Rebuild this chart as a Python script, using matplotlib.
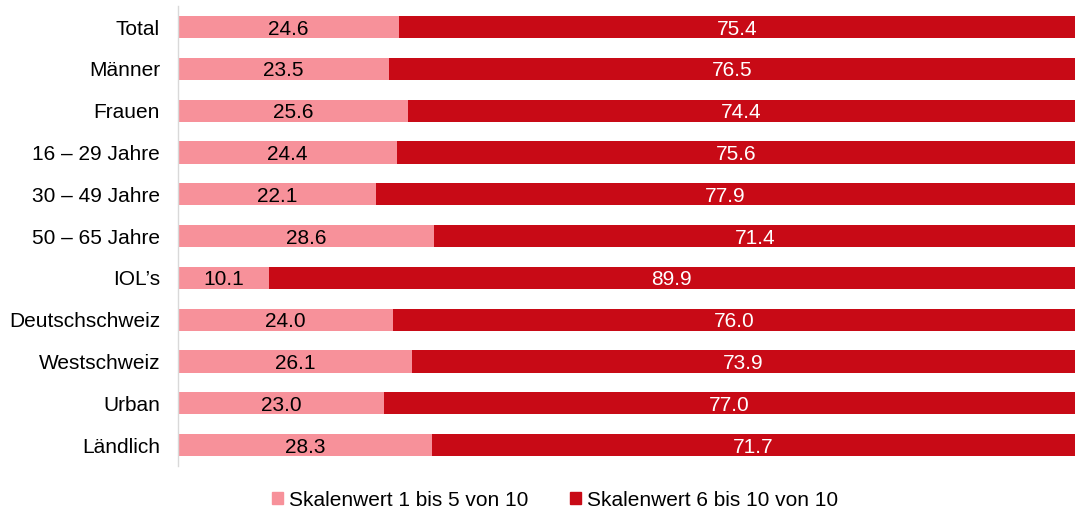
import matplotlib
matplotlib.use("Agg")
import matplotlib.pyplot as plt
from matplotlib.patches import Patch

categories = ["Total", "Männer", "Frauen", "16 – 29 Jahre", "30 – 49 Jahre", "50 – 65 Jahre",
              "IOL’s", "Deutschschweiz", "Westschweiz", "Urban", "Ländlich"]
low = [24.6, 23.5, 25.6, 24.4, 22.1, 28.6, 10.1, 24.0, 26.1, 23.0, 28.3]
high = [75.4, 76.5, 74.4, 75.6, 77.9, 71.4, 89.9, 76.0, 73.9, 77.0, 71.7]
series_names = ["Skalenwert 1 bis 5 von 10", "Skalenwert 6 bis 10 von 10"]

c_low = "#F7919A"
c_high = "#C80A16"

plt.rcParams['font.family'] = ['Liberation Sans', 'DejaVu Sans']
fs = 15

fig = plt.figure(figsize=(10.76, 5.13), dpi=100)
ax = fig.add_axes([0.1654, 0.0916, 0.8336, 0.8964])

y = list(range(len(categories)))
h = 0.53
ax.barh(y, low, height=h, color=c_low)
ax.barh(y, high, left=low, height=h, color=c_high)

for i, (a, b) in enumerate(zip(low, high)):
    ax.text(a / 2, i, f"{a:.1f}", ha="center", va="center_baseline", fontsize=fs, color="black")
    ax.text(a + b / 2, i, f"{b:.1f}", ha="center", va="center_baseline", fontsize=fs, color="white")

ax.set_xlim(0, 100)
ax.set_ylim(len(categories) - 0.5, -0.5)
ax.set_yticks(y)
ax.set_yticklabels(categories, fontsize=fs)
ax.tick_params(axis="y", length=0, pad=13)
ax.set_xticks([])
for s in ["top", "right", "bottom"]:
    ax.spines[s].set_visible(False)
ax.spines["left"].set_color("#D9D9D9")
ax.spines["left"].set_linewidth(1)

handles = [Patch(color=c_low), Patch(color=c_high)]
fig.legend(handles, series_names, loc="center", bbox_to_anchor=(0.516, 0.025),
           ncol=2, frameon=False, fontsize=fs, handlelength=0.5, handleheight=0.5,
           handletextpad=0.3, columnspacing=2.0)

fig.savefig("out.png", dpi=100)
